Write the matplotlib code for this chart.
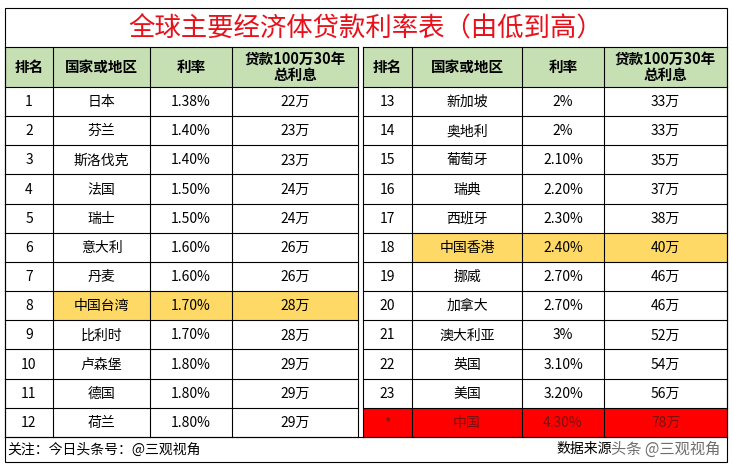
import matplotlib
matplotlib.use("Agg")
import matplotlib.pyplot as plt
from matplotlib.patches import Rectangle

plt.rcParams["font.family"] = "Noto Sans CJK SC"

title = "全球主要经济体贷款利率表（由低到高）"
headers = ["排名", "国家或地区", "利率", "贷款100万30年\n总利息"]
left_rank = ["1", "2", "3", "4", "5", "6", "7", "8", "9", "10", "11", "12"]
left_country = ["日本", "芬兰", "斯洛伐克", "法国", "瑞士", "意大利", "丹麦", "中国台湾", "比利时", "卢森堡", "德国", "荷兰"]
left_rate = ["1.38%", "1.40%", "1.40%", "1.50%", "1.50%", "1.60%", "1.60%", "1.70%", "1.70%", "1.80%", "1.80%", "1.80%"]
left_interest = ["22万", "23万", "23万", "24万", "24万", "26万", "26万", "28万", "28万", "29万", "29万", "29万"]
right_rank = ["13", "14", "15", "16", "17", "18", "19", "20", "21", "22", "23", "*"]
right_country = ["新加坡", "奥地利", "葡萄牙", "瑞典", "西班牙", "中国香港", "挪威", "加拿大", "澳大利亚", "英国", "美国", "中国"]
right_rate = ["2%", "2%", "2.10%", "2.20%", "2.30%", "2.40%", "2.70%", "2.70%", "3%", "3.10%", "3.20%", "4.30%"]
right_interest = ["33万", "33万", "35万", "37万", "38万", "40万", "46万", "46万", "52万", "54万", "56万", "78万"]
footer_left = "关注：今日头条号：@三观视角"
footer_right = "数据来源"
watermark = "头条 @三观视角"

W, H = 732, 469
fig = plt.figure(figsize=(W / 100, H / 100), dpi=100)
ax = fig.add_axes([0, 0, 1, 1])
ax.set_xlim(0, W); ax.set_ylim(H, 0); ax.axis("off")

X0, X1 = 5, 727
Y0, YT, YH, YR, YF = 8, 47, 87, 437, 462
rh = (YR - YH) / 12
lcols = [5, 53, 150, 232, 358]
rcols = [363, 412, 522, 604, 727]
lw = 0.8

def rect(x0, y0, x1, y1, fc):
    ax.add_patch(Rectangle((x0, y0), x1 - x0, y1 - y0, facecolor=fc, edgecolor="none"))

green = "#C6E0B4"; yellow = "#FFD966"; red = "#FF0000"
rect(X0, Y0, X1, YF, "white")
for cols, data, hl in [(lcols, (left_rank, left_country, left_rate, left_interest), {7: yellow}),
                       (rcols, (right_rank, right_country, right_rate, right_interest), {5: yellow, 11: red})]:
    rect(cols[0], YT, cols[-1], YH, green)
    for j, h in enumerate(headers):
        ax.text((cols[j] + cols[j + 1]) / 2, (YT + YH) / 2, h, ha="center", va="center",
                fontsize=10.5, fontweight="bold", linespacing=1.05)
    for i in range(12):
        y = YH + i * rh
        textcolor = "black"
        if i in hl:
            c = hl[i]
            x_start = cols[0] if c == red else cols[1]
            x_end = cols[-1] if c == red else cols[-1]
            if c == yellow:
                rect(cols[1], y, cols[4], y + rh, c)
            else:
                rect(cols[0], y, cols[4], y + rh, c)
                textcolor = "#7a1010"
        for j in range(4):
            ax.text((cols[j] + cols[j + 1]) / 2, y + rh / 2 + 0.5, data[j][i], ha="center", va="center",
                    fontsize=10, color=textcolor)
    for x in cols:
        ax.plot([x, x], [YT, YR], color="black", lw=lw)
    for i in range(13):
        y = YH + i * rh
        ax.plot([cols[0], cols[-1]], [y, y], color="black", lw=lw)
    ax.plot([cols[0], cols[-1]], [YT, YT], color="black", lw=lw)

ax.add_patch(Rectangle((X0, Y0), X1 - X0, YF - Y0, fill=False, edgecolor="black", lw=lw))
ax.plot([X0, X1], [YR, YR], color="black", lw=lw)
ax.text(W / 2, (Y0 + YT) / 2 + 1, title, ha="center", va="center", fontsize=19, color="#E8101A")
ax.text(7, (YR + YF) / 2, footer_left, ha="left", va="center", fontsize=10)
ax.text(556, (YR + YF) / 2, footer_right, ha="left", va="center", fontsize=10)
ax.text(720, (YR + YF) / 2, watermark, ha="right", va="center", fontsize=11, color="#555555", alpha=0.85)

fig.savefig("out.png", dpi=100)
